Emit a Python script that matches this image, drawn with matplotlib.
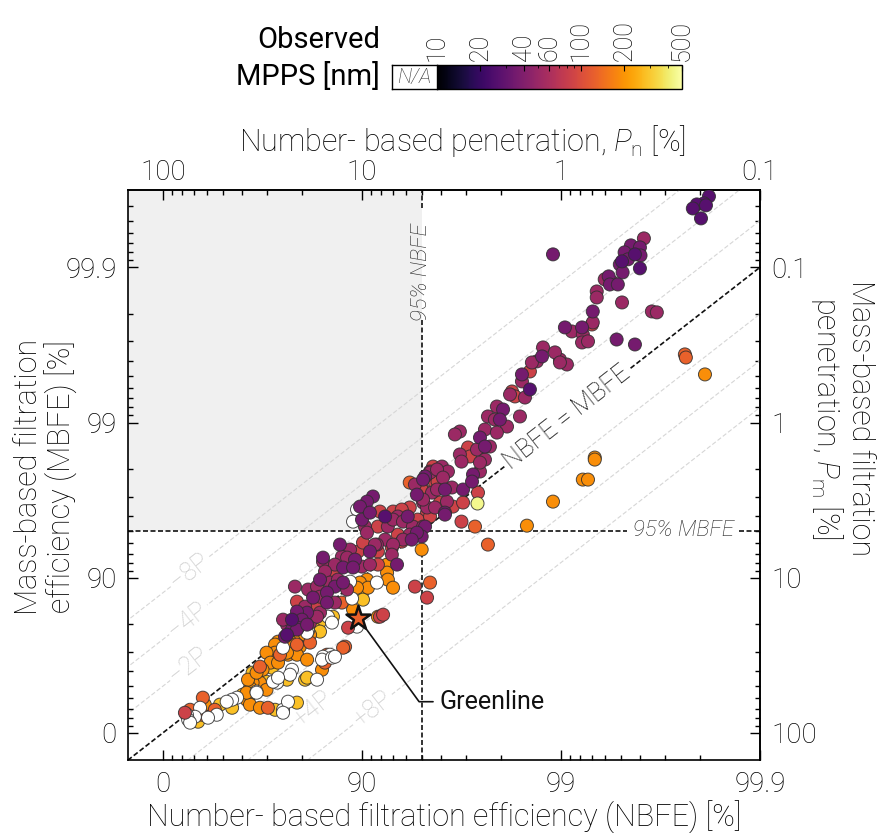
import numpy as np
import matplotlib
matplotlib.use("Agg")
import matplotlib.pyplot as plt
from matplotlib.colors import LogNorm
from matplotlib.cm import ScalarMappable
from matplotlib.ticker import NullFormatter

plt.rcParams['font.family'] = ['Roboto', 'DejaVu Sans']
plt.rcParams['font.weight'] = 'light'
plt.rcParams['axes.labelweight'] = 'light'
plt.rcParams['mathtext.fontset'] = 'custom'
plt.rcParams['mathtext.rm'] = 'Roboto:light'
plt.rcParams['mathtext.it'] = 'Roboto:italic:light'
plt.rcParams['axes.linewidth'] = 1.2

# data as log reduction values: LRV = log10(100 / penetration[%])
# one pair of lists per observed MPPS colour group

mpps_dark = 27
n_dark = [2.744, 2.719, 2.683, 2.663, 2.729, 2.704, 2.372, 2.307, 2.397, 1.844, 1.116, 0.648, 0.623]
m_dark = [3.458, 3.413, 3.406, 3.38, 3.40, 3.316, 3.084, 3.039, 2.994, 2.213, 1.394, 0.729, 0.632]

mpps_purple = 36
n_purple = [2.352, 2.397, 2.32, 2.40, 2.337, 2.296, 2.31, 2.24, 2.246, 2.286,
            2.16, 2.02, 2.106, 2.28, 2.372, 1.96, 1.905, 1.804, 1.709, 1.693,
            1.593, 1.618, 1.558, 1.508, 1.553, 1.417, 1.317, 1.317, 1.30, 1.055,
            1.025, 0.99, 1.0, 1.04, 1.23, 1.276, 1.276, 1.307, 1.417, 1.417,
            1.04, 0.889, 0.804, 1.25, 0.965, 0.905, 0.955, 1.176, 0.789, 0.864,
            0.905, 0.824, 0.754, 0.724, 0.824, 0.673, 0.698, 0.648, 0.678, 0.613,
            0.673, 0.724]
m_purple = [3.142, 3.129, 3.097, 3.077, 3.052, 3.019, 2.968, 2.942, 2.89, 2.89,
            2.716, 2.613, 2.613, 2.535, 2.503, 3.084, 2.426, 2.31, 2.084, 2.019,
            1.903, 1.845, 1.665, 1.568, 1.619, 1.419, 1.652, 1.329, 1.265, 1.523,
            1.49, 1.458, 1.374, 1.419, 1.394, 1.29, 1.535, 1.632, 1.568, 1.406,
            1.168, 1.213, 1.129, 1.245, 1.116, 1.065, 1.065, 1.084, 0.987, 0.942,
            0.968, 0.903, 0.871, 0.774, 0.839, 0.781, 0.729, 0.665, 0.677, 0.619,
            0.665, 0.697]

mpps_magenta = 52
n_magenta = [2.417, 2.22, 2.26, 2.18, 2.18, 2.307, 2.457, 2.482, 2.16, 2.055,
             2.11, 2.106, 2.136, 1.995, 2.03, 1.91, 1.97, 1.995, 1.879, 1.854,
             1.804, 1.744, 1.819, 1.678, 1.633, 1.668, 1.729, 1.794, 1.618, 1.492,
             1.467, 1.678, 1.643, 1.603, 1.578, 1.492, 1.618, 1.50, 1.402, 1.432,
             1.342, 1.593, 1.352, 1.452, 1.593, 1.307, 1.015, 1.025, 1.18, 1.13,
             1.156, 1.206, 1.256, 1.307, 1.327, 1.307, 1.266, 1.342, 1.377, 1.407,
             1.377, 1.427, 1.367, 1.24, 1.116, 1.075, 0.94, 0.899, 1.206, 1.065,
             1.156, 1.15, 0.925, 0.804, 0.864, 0.814, 1.0, 1.04, 0.925, 0.663,
             0.729, 0.774, 0.839, 0.879, 0.789, 0.714, 0.864, 0.789, 0.623, 0.603,
             0.739, 0.774]
m_magenta = [3.187, 2.923, 2.903, 2.845, 2.806, 2.774, 2.716, 2.71, 2.645, 2.587,
             2.568, 2.516, 2.523, 2.406, 2.374, 2.484, 2.452, 2.387, 2.394, 2.387,
             2.265, 2.181, 2.161, 2.103, 2.039, 2.019, 1.974, 2.039, 1.955, 1.942,
             1.923, 1.935, 1.845, 1.839, 1.826, 1.794, 1.761, 1.748, 1.716, 1.684,
             1.684, 1.684, 1.548, 1.581, 1.742, 1.484, 1.329, 1.29, 1.394, 1.329,
             1.374, 1.361, 1.329, 1.329, 1.452, 1.503, 1.60, 1.677, 1.697, 1.645,
             1.568, 1.49, 1.452, 1.277, 1.245, 1.213, 1.181, 1.135, 1.245, 1.213,
             1.213, 1.148, 1.129, 1.103, 1.084, 1.039, 1.071, 1.084, 0.923, 0.942,
             0.923, 0.942, 0.968, 0.987, 0.877, 0.813, 0.839, 0.774, 0.697, 0.729,
             0.71, 0.748]

mpps_red = 85
n_red = [2.156, 1.844, 1.754, 1.769, 1.533, 1.543, 1.357, 1.583, 1.50, 1.327,
         1.392, 1.457, 1.508, 1.367, 1.307, 1.327, 1.09, 1.156, 1.08, 1.24,
         1.20, 1.28, 1.342, 1.30, 1.38, 1.18, 1.08, 1.15, 0.98, 1.005,
         1.20, 0.854, 1.08, 1.266, 1.09, 1.106, 0.93, 0.673, 0.774, 0.11]
m_red = [2.632, 2.329, 2.20, 2.168, 1.839, 1.781, 1.716, 1.548, 1.361, 0.871,
         1.484, 1.458, 1.484, 1.613, 1.568, 1.419, 1.426, 1.426, 1.329, 1.452,
         1.439, 1.374, 1.394, 1.568, 1.619, 1.277, 1.168, 1.194, 1.168, 1.226,
         1.232, 1.039, 1.084, 0.942, 0.748, 0.761, 0.677, 0.845, 0.813, 0.129]

mpps_orange_red = 125
n_orange_red = [2.623, 2.628, 1.568, 1.633, 1.342, 1.24, 0.899, 0.588, 0.915, 0.673,
                0.487, 0.527, 0.26, 0.20, 0.136, 0.196, 0.814, 0.905, 0.824, 0.739]
m_orange_red = [2.439, 2.419, 1.329, 1.213, 0.968, 1.613, 0.839, 0.503, 0.555, 0.568,
                0.426, 0.161, 0.148, 0.226, 0.148, 0.116, 0.452, 0.548, 0.503, 0.581]

mpps_orange = 190
n_orange = [2.724, 2.17, 2.17, 2.11, 2.136, 1.96, 1.829, 1.30, 1.126, 1.126,
            1.025, 0.99, 1.03, 0.975, 0.955, 1.13, 1.156, 1.08, 0.739, 0.688,
            0.688, 0.714, 0.638, 0.578, 0.548, 0.628, 0.673, 0.628, 0.563, 0.563,
            0.623, 0.52, 0.54, 0.50, 0.578, 0.487, 0.45, 0.437, 0.42, 0.437,
            0.487, 0.236, 0.21, 0.799, 0.427, 0.42, 0.52, 0.47, 0.724]
m_orange = [2.31, 1.774, 1.761, 1.632, 1.632, 1.49, 1.335, 1.181, 1.084, 1.032,
            0.987, 0.968, 0.935, 0.935, 0.794, 0.987, 0.935, 0.748, 0.632, 0.60,
            0.555, 0.632, 0.587, 0.587, 0.516, 0.503, 0.503, 0.581, 0.568, 0.516,
            0.516, 0.516, 0.452, 0.406, 0.452, 0.323, 0.323, 0.29, 0.213, 0.181,
            0.161, 0.135, 0.181, 0.406, 0.342, 0.258, 0.277, 0.387, 0.471]

mpps_yellow = 280
n_yellow = [1.0, 1.005, 0.854, 0.789, 0.764, 0.789, 0.548, 0.623, 0.52, 0.437,
            0.40, 0.563, 0.673, 0.286, 0.176, 0.714, 0.45, 0.347, 0.724]
m_yellow = [0.903, 0.858, 0.748, 0.716, 0.665, 0.652, 0.419, 0.342, 0.329, 0.245,
            0.245, 0.148, 0.194, 0.181, 0.071, 0.342, 0.387, 0.161, 0.355]

mpps_pale = 450
n_pale = [1.578]
m_pale = [1.484]

# filters where MPPS could not be observed
n_na = [0.975, 0.955, 1.116, 0.94, 0.95, 0.829, 0.729, 0.603, 1.075, 0.975,
        0.839, 0.804, 0.849, 0.724, 0.648, 0.638, 0.573, 0.553, 0.578, 0.47,
        0.603, 0.628, 0.372, 0.347, 0.32, 0.27, 0.186, 0.16, 0.12, 0.126,
        0.226, 0.774, 0.799, 0.849, 0.136, 0.47, 0.603, 0.864]
m_na = [1.439, 1.361, 1.194, 0.974, 0.865, 0.748, 0.658, 0.548, 0.968, 0.684,
        0.503, 0.49, 0.71, 0.645, 0.406, 0.374, 0.323, 0.329, 0.355, 0.265,
        0.148, 0.20, 0.226, 0.213, 0.20, 0.116, 0.161, 0.103, 0.116, 0.084,
        0.097, 0.342, 0.471, 0.484, 0.065, 0.258, 0.129, 0.49]

greenline_n, greenline_m, greenline_mpps = 0.98, 0.742, 125

threshold = 5.0          # 95 % efficiency -> 5 % penetration
ratio_lines = [2, 4, 8]
ratio_labels = {'−8P': (8, 0.136), '−4P': (4, 0.126), '−2P': (2, 0.131),
                '+4P': (1 / 4, 0.754), '+8P': (1 / 8, 1.055)}

eff_ticks = [100, 10, 1, 0.1]
eff_labels = ['0', '90', '99', '99.9']
pen_labels = ['100', '10', '1', '0.1']
cbar_ticks = [10, 20, 40, 60, 100, 200, 500]


def pen(lrv):
    return 100 * 10 ** (-np.asarray(lrv, dtype=float))


cmap = plt.get_cmap('inferno').copy()
cmap.set_bad('white')
norm = LogNorm(10, 500)

fig = plt.figure(figsize=(8.8, 8.33), dpi=100)
ax = fig.add_axes([0.1455, 0.0876, 0.718, 0.6845])
ax.set_xscale('log')
ax.set_yscale('log')
ax.set_xlim(pen(-0.176), pen(3.0))
ax.set_ylim(pen(-0.176), pen(3.5))
xl, yl = ax.get_xlim(), ax.get_ylim()

# shaded: passes 95 % MBFE but fails 95 % NBFE
ax.fill_between([xl[0], threshold], threshold, yl[1], color='#f0f0f0', lw=0, zorder=0)

line_x = np.array([1e4, 1e-4])
for k in ratio_lines:
    for f in (k, 1 / k):
        ax.plot(line_x, line_x / f, color='#d6d6d6', lw=0.8, ls=(0, (4, 2)), zorder=1)
ax.plot(line_x, line_x, color='#111111', lw=1.2, ls=(0, (3, 1.5)), zorder=2)

dash = dict(color='#111111', lw=1.2, ls=(0, (3, 1.5)), zorder=2)
ax.axvline(threshold, ymin=0, ymax=0.772, **dash)
ax.axvline(threshold, ymin=0.968, ymax=1, **dash)
ax.axhline(threshold, xmin=0, xmax=0.79, **dash)
ax.axhline(threshold, xmin=0.967, xmax=1, **dash)

groups = [(mpps_yellow, n_yellow, m_yellow), (mpps_orange, n_orange, m_orange),
          (mpps_orange_red, n_orange_red, m_orange_red), (np.nan, n_na, m_na),
          (mpps_red, n_red, m_red), (mpps_magenta, n_magenta, m_magenta),
          (mpps_purple, n_purple, m_purple), (mpps_dark, n_dark, m_dark),
          (mpps_pale, n_pale, m_pale)]
for mpps, ln, lm in groups:
    ax.scatter(pen(ln), pen(lm), c=np.full(len(ln), mpps), cmap=cmap, norm=norm,
               plotnonfinite=True, s=88, edgecolors=(0.18, 0.18, 0.18, 0.85),
               linewidths=0.7, zorder=3)

ax.scatter([pen(greenline_n)], [pen(greenline_m)], c=[greenline_mpps], cmap=cmap, norm=norm,
           marker='*', s=330, edgecolors='#111111', linewidths=1.8, zorder=5)
ax.annotate('Greenline', xy=(pen(greenline_n), pen(greenline_m)),
            xytext=(pen(1.392), pen(0.2)), fontsize=18, weight='normal', color='#111111',
            ha='left', va='center',
            arrowprops=dict(arrowstyle='-', color='#111111', lw=1.2, shrinkA=3, shrinkB=9,
                            connectionstyle='angle,angleA=0,angleB=-54,rad=0'), zorder=5)

fig.canvas.draw()


def angle_of(slope_factor):
    p1 = ax.transData.transform((10, 10 / slope_factor))
    p2 = ax.transData.transform((1, 1 / slope_factor))
    return np.degrees(np.arctan2(p2[1] - p1[1], p2[0] - p1[0]))


rot = angle_of(1)
for lab, (f, ln) in ratio_labels.items():
    x = pen(ln)
    ax.text(x, x / f, lab, rotation=rot, rotation_mode='anchor', ha='center', va='center',
            fontsize=18, color='#cccccc', zorder=2,
            bbox=dict(boxstyle='square,pad=0.1', fc='white', ec='none'))
ax.text(pen(2.03), pen(2.03), 'NBFE = MBFE', rotation=rot, rotation_mode='anchor',
        ha='center', va='center', fontsize=18, color='#111111', zorder=2,
        bbox=dict(boxstyle='square,pad=0.1', fc='white', ec='none'))
ax.text(threshold, pen(2.97), '95% NBFE', rotation=90, ha='center', va='center',
        fontsize=16, style='italic', color='#222222')
ax.text(pen(2.615), threshold, '95% MBFE', ha='center', va='center',
        fontsize=16, style='italic', color='#222222')

ax.set_xticks(eff_ticks, labels=eff_labels)
ax.set_yticks(eff_ticks, labels=eff_labels)
ax.xaxis.set_minor_formatter(NullFormatter())
ax.yaxis.set_minor_formatter(NullFormatter())
ax.tick_params(which='both', direction='in', labelsize=20, width=1.0, pad=8)
ax.tick_params(which='major', length=7)
ax.tick_params(which='minor', length=3.5)

top = ax.secondary_xaxis('top')
top.set_xticks(eff_ticks, labels=pen_labels)
right = ax.secondary_yaxis('right')
right.set_yticks(eff_ticks, labels=pen_labels)
for sec, axis in ((top, top.xaxis), (right, right.yaxis)):
    axis.set_minor_formatter(NullFormatter())
    sec.tick_params(which='both', direction='in', labelsize=20, width=1.0, pad=8)
    sec.tick_params(which='major', length=7)
    sec.tick_params(which='minor', length=3.5)
top.tick_params(which='both', pad=3)

ax.set_xlabel('Number- based filtration efficiency (NBFE) [%]', fontsize=22, labelpad=2)
ax.set_ylabel('Mass-based filtration\nefficiency (MBFE) [%]', fontsize=22,
              linespacing=1.05, va='center')
ax.yaxis.set_label_coords(46 / 880, 1 - 477 / 833, transform=fig.transFigure)
top.set_xlabel(r'Number- based penetration, $P_\mathrm{n}$ [%]', fontsize=22, va='center')
top.xaxis.set_label_coords(462 / 880, 1 - 141 / 833, transform=fig.transFigure)
right.set_ylabel('Mass-based filtration\n' + r'penetration, $P_\mathrm{m}$ [%]', fontsize=22,
                 rotation=-90, va='center', linespacing=1.05)
right.yaxis.set_label_coords(842 / 880, 1 - 418 / 833, transform=fig.transFigure)

# colour bar with an N/A box on its left
cax = fig.add_axes([0.4966, 0.893, 0.278, 0.029])
cb = fig.colorbar(ScalarMappable(norm=norm, cmap=cmap), cax=cax, orientation='horizontal')
cb.outline.set_linewidth(1.0)
cax.xaxis.set_ticks_position('top')
cb.set_ticks(cbar_ticks, labels=[str(t) for t in cbar_ticks])
cax.xaxis.set_minor_formatter(NullFormatter())
cax.tick_params(which='both', direction='in', labelsize=18, labelrotation=90, pad=3,
                labelcolor='#111111')
cax.tick_params(which='major', length=4)
cax.tick_params(which='minor', length=2)

nax = fig.add_axes([0.4455, 0.893, 0.0511, 0.029])
nax.set_xticks([])
nax.set_yticks([])
nax.text(0.5, 0.5, 'N/A', ha='center', va='center', style='italic', fontsize=15,
         color='#333333', transform=nax.transAxes)
for s in nax.spines.values():
    s.set_linewidth(1.0)

fig.text(0.432, 0.952, 'Observed', ha='right', va='center', fontsize=21, weight='normal')
fig.text(0.432, 0.908, 'MPPS [nm]', ha='right', va='center', fontsize=21, weight='normal')

fig.savefig('out.png', dpi=100)
